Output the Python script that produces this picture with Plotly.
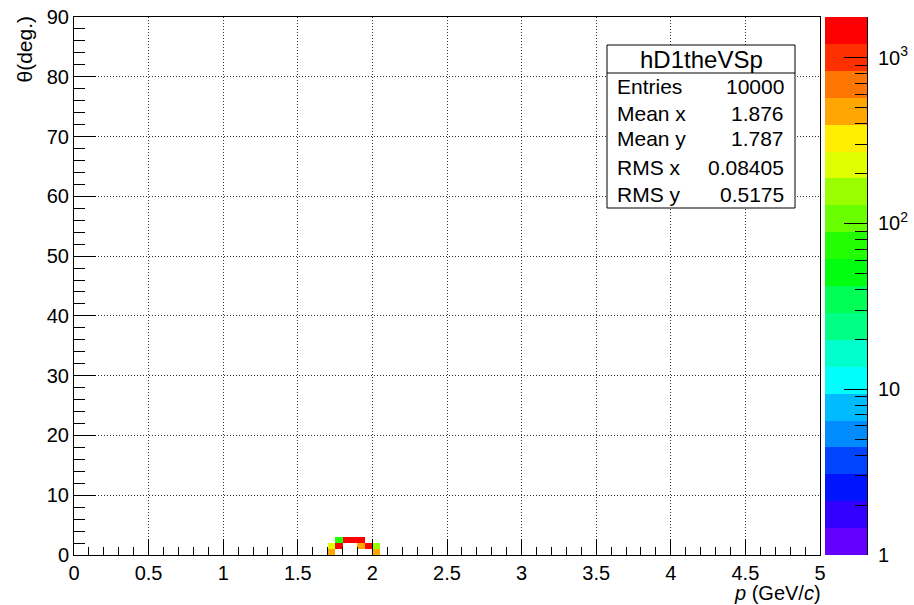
import numpy as np
import colorsys
import plotly.graph_objects as go

# ---------------- data ----------------
# 2D histogram hD1theVSp: non-empty bins (lower edges) and contents
bin_p_low = [1.70, 1.70, 1.75, 1.75, 1.80, 1.85, 1.90, 1.90, 1.95, 2.00, 2.00]
bin_theta_low = [0, 1, 1, 2, 2, 2, 2, 1, 1, 1, 0]
bin_counts = [480, 240, 1757, 73, 1640, 1560, 1600, 500, 1470, 160, 520]

p_bin_width = 0.05
n_p_bins = 100
theta_bin_width = 1.0
n_theta_bins = 90

z_log_max = 3.245  # colour scale top (log10)
n_contours = 20

x_tickvals = [0, 0.5, 1, 1.5, 2, 2.5, 3, 3.5, 4, 4.5, 5]
x_ticktext = ["0", "0.5", "1", "1.5", "2", "2.5", "3", "3.5", "4", "4.5", "5"]
y_tickvals = [0, 10, 20, 30, 40, 50, 60, 70, 80, 90]
y_ticktext = ["0", "10", "20", "30", "40", "50", "60", "70", "80", "90"]
cb_tickvals = [0, 1, 2, 3]
cb_ticktext = ["1", "10", "10<sup>2</sup>", "10<sup>3</sup>"]

stats_title = "hD1theVSp"
stats_labels = ["Entries", "Mean x", "Mean y", "RMS x", "RMS y"]
stats_values = ["10000", "1.876", "1.787", "0.08405", "0.5175"]

# ---------------- geometry ----------------
W, H = 914, 605
ML, MR, MT, MB = 74, 47, 17, 50
PW = W - ML - MR
PH = H - MT - MB


def px(x):
    return (x - ML) / PW


def py(y):
    return (H - MB - y) / PH


FONT = "Liberation Sans, Arial, sans-serif"

# ---------------- ROOT pretty palette (violet -> red) ----------------
pal = []
for i in range(50):
    hue = 280 - (i + 1) * (280 / 50)
    r, g, b = colorsys.hls_to_rgb(hue / 360.0, 0.5, 1.0)
    pal.append("rgb(%d,%d,%d)" % (round(r * 255), round(g * 255), round(b * 255)))
band_colors = [pal[int((k + 0.99) * 50 / n_contours)] for k in range(n_contours)]
colorscale = []
for k, c in enumerate(band_colors):
    colorscale.append([k / n_contours, c])
    colorscale.append([(k + 1) / n_contours, c])

# ---------------- histogram grid ----------------
x_edges = np.linspace(0, n_p_bins * p_bin_width, n_p_bins + 1)
y_edges = np.linspace(0, n_theta_bins * theta_bin_width, n_theta_bins + 1)
z = np.full((n_theta_bins, n_p_bins), np.nan)
for pl, tl, c in zip(bin_p_low, bin_theta_low, bin_counts):
    i = int(round(pl / p_bin_width))
    j = int(round(tl / theta_bin_width))
    z[j, i] = np.log10(c)

fig = go.Figure()
fig.add_trace(go.Heatmap(
    x=x_edges, y=y_edges, z=z, zmin=0, zmax=z_log_max,
    colorscale=colorscale, showscale=False, xaxis="x", yaxis="y",
    hoverinfo="skip",
))

# colour bar drawn as its own small subplot with a log10 axis
cb_edges = np.linspace(0, z_log_max, n_contours + 1)
cb_centers = (cb_edges[:-1] + cb_edges[1:]) / 2
fig.add_trace(go.Heatmap(
    x=[0, 1], y=cb_edges, z=[[v] for v in cb_centers], zmin=0, zmax=z_log_max,
    colorscale=colorscale, showscale=False, xaxis="x2", yaxis="y2",
    hoverinfo="skip",
))

minor_vals = []
for d in range(0, 4):
    for m in range(2, 10):
        v = d + np.log10(m)
        if v < z_log_max:
            minor_vals.append(v)

tickfont = dict(family=FONT, size=20, color="black")
GRID_DASH = "1px,2px"
GRID_COL = "#333333"

fig.update_layout(
    width=W, height=H,
    margin=dict(l=ML, r=MR, t=MT, b=MB, autoexpand=False),
    paper_bgcolor="white", plot_bgcolor="white",
    showlegend=False,
    xaxis=dict(
        domain=[0, (820 - ML) / PW], range=[0, 5], anchor="y",
        automargin=False,
        tickmode="array", tickvals=x_tickvals, ticktext=x_ticktext,
        ticks="inside", ticklen=16, tickwidth=1, tickcolor="black",
        showline=True, linecolor="black", linewidth=1, mirror=True,
        showgrid=True, gridcolor=GRID_COL, griddash=GRID_DASH, gridwidth=1,
        zeroline=False, tickfont=tickfont,
        minor=dict(tickmode="linear", tick0=0, dtick=0.1, ticks="inside",
                   ticklen=8, tickwidth=1, tickcolor="black", showgrid=False),
    ),
    yaxis=dict(
        domain=[0, 1], range=[0, 90], anchor="x",
        automargin=False,
        tickmode="array", tickvals=y_tickvals, ticktext=y_ticktext,
        ticks="inside", ticklen=22, tickwidth=1, tickcolor="black",
        showline=True, linecolor="black", linewidth=1, mirror=True,
        showgrid=True, gridcolor=GRID_COL, griddash=GRID_DASH, gridwidth=1,
        zeroline=False, tickfont=tickfont,
        minor=dict(tickmode="linear", tick0=0, dtick=2, ticks="inside",
                   ticklen=11, tickwidth=1, tickcolor="black", showgrid=False),
    ),
    xaxis2=dict(
        domain=[(825 - ML) / PW, 1], range=[0, 1], anchor="y2",
        visible=False, fixedrange=True, automargin=False,
    ),
    yaxis2=dict(
        domain=[0, 1], range=[0, z_log_max], anchor="x2", side="right",
        automargin=False,
        tickmode="array", tickvals=cb_tickvals, ticktext=cb_ticktext,
        ticks="inside", ticklen=23, tickwidth=1, tickcolor="black",
        showline=True, linecolor="black", linewidth=1,
        showgrid=False, zeroline=False, tickfont=tickfont,
        ticklabelstandoff=6,
        minor=dict(tickmode="array", tickvals=minor_vals, ticks="inside",
                   ticklen=12, tickwidth=1, tickcolor="black", showgrid=False),
    ),
)

# ---------------- stats box ----------------
bx0, bx1, by0, by1, bsep = 607, 795, 45, 208, 73
fig.add_shape(type="rect", xref="paper", yref="paper",
              x0=px(bx0), x1=px(bx1), y0=py(by1), y1=py(by0),
              line=dict(color="black", width=1), fillcolor="white", layer="above")
fig.add_shape(type="line", xref="paper", yref="paper",
              x0=px(bx0), x1=px(bx1), y0=py(bsep), y1=py(bsep),
              line=dict(color="black", width=1), layer="above")
sfont = dict(family=FONT, size=21, color="black")
fig.add_annotation(x=px((bx0 + bx1) / 2), y=py(59), xref="paper", yref="paper",
                   text=stats_title, showarrow=False,
                   font=dict(family=FONT, size=24, color="black"),
                   xanchor="center", yanchor="middle")
row_y = [87, 114, 138, 167, 194]
for lab, val, yy in zip(stats_labels, stats_values, row_y):
    fig.add_annotation(x=px(615), y=py(yy), xref="paper", yref="paper",
                       text=lab, showarrow=False, font=sfont,
                       xanchor="left", yanchor="middle")
    fig.add_annotation(x=px(786), y=py(yy), xref="paper", yref="paper",
                       text=val, showarrow=False, font=sfont,
                       xanchor="right", yanchor="middle")

# ---------------- axis titles ----------------
fig.add_annotation(x=px(24), y=py(14), xref="paper", yref="paper",
                   text="θ(deg.)", showarrow=False,
                   font=dict(family=FONT, size=21, color="black"), textangle=-90,
                   xanchor="center", yanchor="top")
fig.add_annotation(x=px(822), y=py(605), xref="paper", yref="paper",
                   text="<i>p</i> (GeV/<i>c</i>)", showarrow=False,
                   font=dict(family=FONT, size=20, color="black"),
                   xanchor="right", yanchor="bottom", borderpad=0)

fig.write_html("out.html")
